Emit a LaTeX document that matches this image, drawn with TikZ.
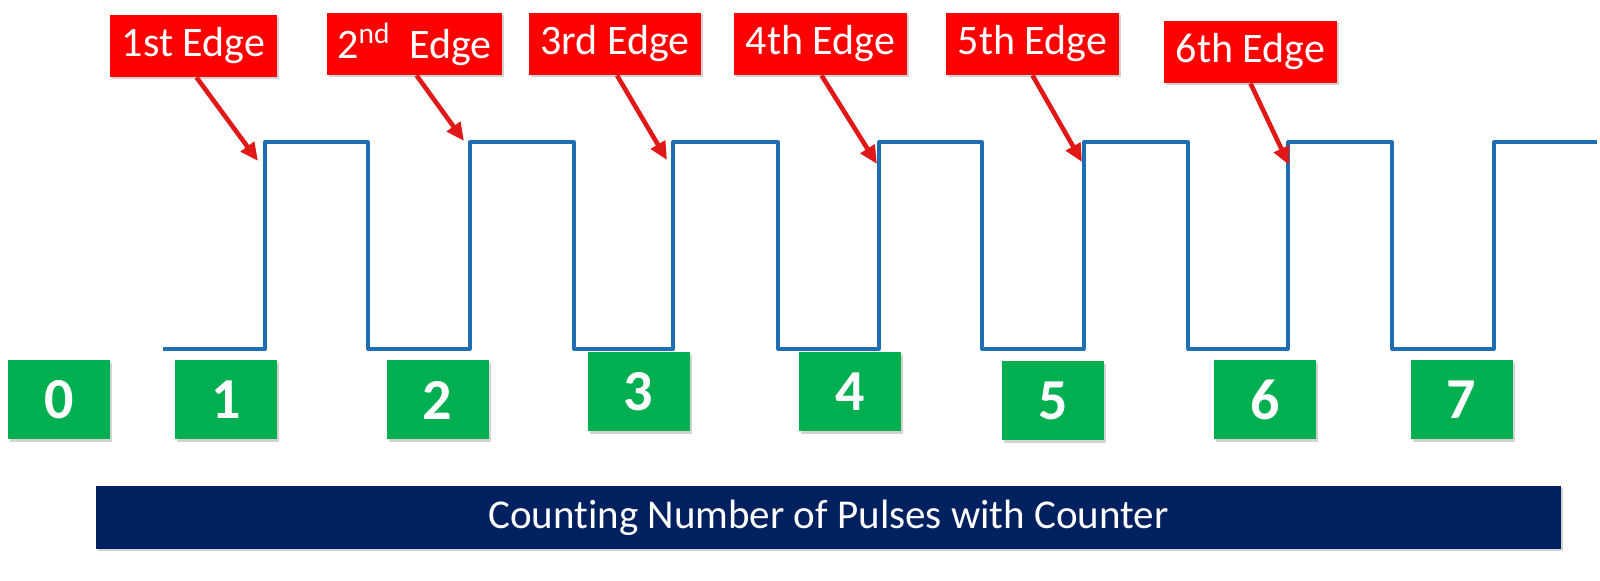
\documentclass[tikz,border=0pt]{standalone}
\usepackage{fontspec}
\setmainfont{Carlito}[Ligatures=NoCommon]
\usetikzlibrary{arrows.meta,shadows}
\definecolor{lblred}{HTML}{FF0000}
\definecolor{arrred}{HTML}{E01818}
\definecolor{cntgreen}{HTML}{00B050}
\definecolor{navy}{HTML}{002060}
\definecolor{wave}{HTML}{1F6DB3}
\tikzset{
  edgelabel/.style={fill=lblred, text=white, inner sep=0pt, minimum height=31pt,
    font=\fontsize{21}{25}\selectfont,
    drop shadow={opacity=0.35, shadow xshift=1.2pt, shadow yshift=-1.2pt}},
  countbox/.style={fill=cntgreen, text=white, inner sep=0pt, minimum width=51pt, minimum height=39.5pt,
    font=\fontsize{29}{34}\selectfont\bfseries,
    drop shadow={opacity=0.35, shadow xshift=1.2pt, shadow yshift=-1.2pt}},
  titlebar/.style={fill=navy, text=white, inner sep=0pt, minimum width=732.5pt, minimum height=31.5pt,
    font=\fontsize{20.5}{24}\selectfont,
    drop shadow={opacity=0.35, shadow xshift=1.2pt, shadow yshift=-1.2pt}},
  pointer/.style={draw=arrred, line width=2.3pt, -{Triangle[length=9pt,width=8pt]}},
  pulse/.style={draw=wave, line width=1.6pt, line join=round},
}
\begin{document}
\begin{tikzpicture}[x=0.5pt,y=-0.5pt]
\useasboundingbox (0,0) rectangle (1600,581);
% waveform
\draw[pulse] (163,349) -- (265,349) -- (265,142) -- (368,142) -- (368,349)
  -- (470,349) -- (470,142) -- (574,142) -- (574,349)
  -- (673,349) -- (673,142) -- (778,142) -- (778,349)
  -- (879,349) -- (879,142) -- (982,142) -- (982,349)
  -- (1084,349) -- (1084,142) -- (1188,142) -- (1188,349)
  -- (1288,349) -- (1288,142) -- (1392,142) -- (1392,349)
  -- (1494,349) -- (1494,142) -- (1597,142);
% edge labels
\node[edgelabel, minimum width=83.5pt] (e1) at (193.5,46) {1st Edge};
\node[edgelabel, minimum width=87.5pt] (e2) at (414.5,44) {2\textsuperscript{nd}\ \ Edge};
\node[edgelabel, minimum width=86pt] (e3) at (615,44) {3rd Edge};
\node[edgelabel, minimum width=86.5pt] (e4) at (820.5,44) {4th Edge};
\node[edgelabel, minimum width=86.5pt] (e5) at (1032.5,44) {5th Edge};
\node[edgelabel, minimum width=86.5pt] (e6) at (1250.5,52) {6th Edge};
% arrow targets
\coordinate (t1) at (258,161);
\coordinate (t2) at (464,141);
\coordinate (t3) at (667,160);
\coordinate (t4) at (877,164);
\coordinate (t5) at (1082,162);
\coordinate (t6) at (1289,165);
\draw[pointer] ([xshift=1.5pt]e1.south) -- (t1);
\draw[pointer] ([xshift=1pt]e2.south) -- (t2);
\draw[pointer] ([xshift=1pt]e3.south) -- (t3);
\draw[pointer] ([xshift=0.5pt]e4.south) -- (t4);
\draw[pointer] (e5.south) -- (t5);
\draw[pointer] (e6.south) -- (t6);
% counters
\node[countbox] (c0) at (59,400) {0};
\node[countbox] (c1) at (226,400) {1};
\node[countbox] (c2) at (437.5,400) {2};
\node[countbox] (c3) at (638.5,392) {3};
\node[countbox] (c4) at (850,392) {4};
\node[countbox] (c5) at (1053,401) {5};
\node[countbox] (c6) at (1265,400) {6};
\node[countbox] (c7) at (1461.5,400) {7};
% title bar
\node[titlebar] (bar) at (828.5,517.5) {Counting Number of Pulses with Counter};
\end{tikzpicture}
\end{document}
